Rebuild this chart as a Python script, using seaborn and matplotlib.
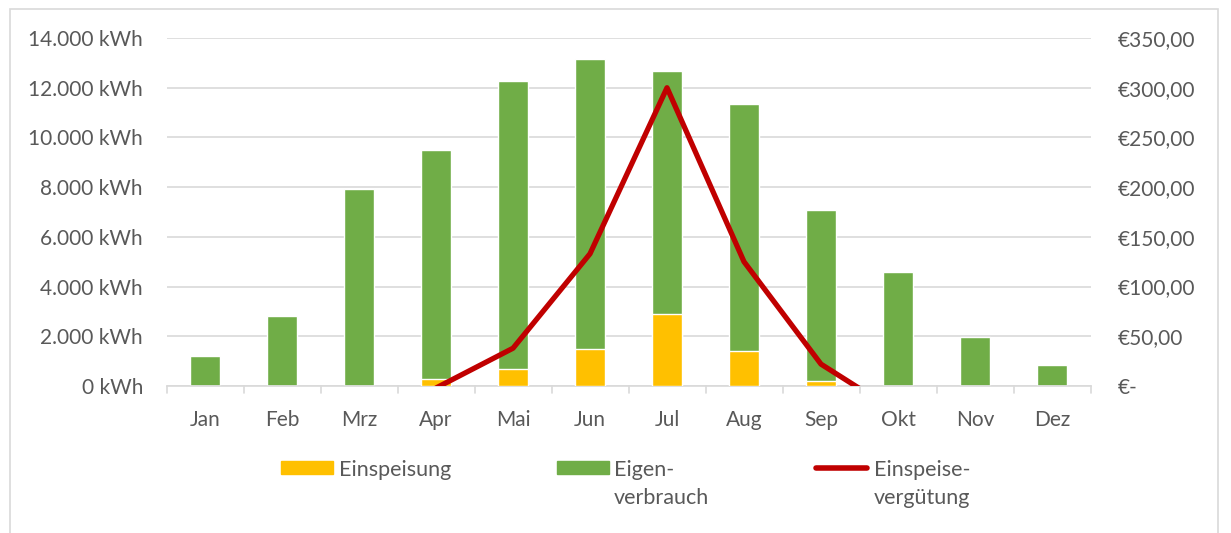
import numpy as np
import pandas as pd
import matplotlib
matplotlib.use('Agg')
import matplotlib.pyplot as plt
from matplotlib.patches import Rectangle
from matplotlib.lines import Line2D
import seaborn as sns

# Daten
monate = ["Jan", "Feb", "Mrz", "Apr", "Mai", "Jun", "Jul", "Aug", "Sep", "Okt", "Nov", "Dez"]
einspeisung = [0, 0, 0, 280, 690, 1490, 2900, 1410, 200, 0, 0, 0]
eigenverbrauch = [1200, 2820, 7920, 9210, 11580, 11670, 9770, 9940, 6880, 4590, 1980, 850]
verguetung = [None, None, None, -2, 38, 133, 300, 125, 22, -27, None, None]

GELB = "#FFC000"
GRUEN = "#70AD47"
ROT = "#C00000"
GRAU = "#595959"
LINIE = "#D9D9D9"

sns.set_theme(style="white")
plt.rcParams['font.family'] = ['Lato', 'DejaVu Sans']

df = pd.DataFrame({
    "Monat": monate,
    "Einspeisung": einspeisung,
    "Eigenverbrauch": eigenverbrauch,
    "Verguetung": verguetung,
})
df["Gesamt"] = df["Einspeisung"] + df["Eigenverbrauch"]

fig = plt.figure(figsize=(12.31, 5.33), dpi=100)
W, H = 1231, 533
ax = fig.add_axes([166.5 / W, 1 - 386 / H, (1090.5 - 166.5) / W, (386 - 38) / H])

# gestapelte Balken: Gesamt (grün), Einspeisung (gelb) unten darüber
sns.barplot(data=df, x="Monat", y="Gesamt", color=GRUEN, width=0.4,
            saturation=1, ax=ax, zorder=2)
sns.barplot(data=df, x="Monat", y="Einspeisung", color=GELB, width=0.4,
            saturation=1, ax=ax, zorder=3)

ax.set_ylim(0, 14000)
ax.set_xlim(-0.5, 11.5)
ax.set_yticks(np.arange(0, 14001, 2000))
ax.set_yticklabels([f"{int(v):,}".replace(",", ".") + " kWh" for v in ax.get_yticks()])
ax.set_xlabel("")
ax.set_ylabel("")
ax.grid(axis="y", color=LINIE, linewidth=1.2, zorder=0)
ax.set_axisbelow(True)
for s in ["top", "left", "right"]:
    ax.spines[s].set_visible(False)
ax.spines["bottom"].set_color(LINIE)
ax.spines["bottom"].set_linewidth(1.2)
ax.tick_params(axis="y", length=0, pad=17, labelsize=15, labelcolor=GRAU)
ax.tick_params(axis="x", length=0, pad=17.5, labelsize=15, labelcolor=GRAU)
# Trennstriche zwischen Kategorien
for b in np.arange(-0.5, 12, 1):
    ax.plot([b, b], [0, -280], color=LINIE, lw=1.2, clip_on=False, zorder=1)

# Einspeisevergütung auf zweiter Achse
ax2 = ax.twinx()
sns.lineplot(data=df.dropna(subset=["Verguetung"]), x="Monat", y="Verguetung",
             color=ROT, linewidth=3.8, sort=False, ax=ax2, zorder=5)
ax2.set_ylim(0, 350)
ax2.set_yticks(np.arange(0, 351, 50))
ax2.set_yticklabels(["€-" if v == 0 else f"€{v:.2f}".replace(".", ",") for v in ax2.get_yticks()])
ax2.set_ylabel("")
for s in ["top", "left", "right", "bottom"]:
    ax2.spines[s].set_visible(False)
ax2.tick_params(axis="y", length=0, pad=19.5, labelsize=15, labelcolor=GRAU)
ax2.grid(False)


# Legende (Pixelkoordinaten -> Figurkoordinaten)
def fx(x):
    return x / W


def fy(y):
    return 1 - y / H


fig.patches.append(Rectangle((fx(281), fy(474)), 52 / W, 13 / H, color=GELB,
                             transform=fig.transFigure))
fig.patches.append(Rectangle((fx(557), fy(474)), 52 / W, 13 / H, color=GRUEN,
                             transform=fig.transFigure))
fig.lines.append(Line2D([fx(816), fx(867)], [fy(467.5), fy(467.5)], color=ROT, lw=4,
                        solid_capstyle="round", transform=fig.transFigure))
leg_kw = dict(fontsize=15.5, color=GRAU, va="baseline", ha="left")
fig.text(fx(339), fy(476), "Einspeisung", **leg_kw)
fig.text(fx(614), fy(476), "Eigen-", **leg_kw)
fig.text(fx(614), fy(504), "verbrauch", **leg_kw)
fig.text(fx(874), fy(476), "Einspeise-", **leg_kw)
fig.text(fx(874), fy(504), "vergütung", **leg_kw)

# Rahmen
fig.patches.append(Rectangle((fx(9.5), -0.05), (1218 - 9.5) / W, fy(9.5) + 0.05,
                             fill=False, edgecolor=LINIE, lw=1.2,
                             transform=fig.transFigure))

fig.savefig("out.png", dpi=100)
